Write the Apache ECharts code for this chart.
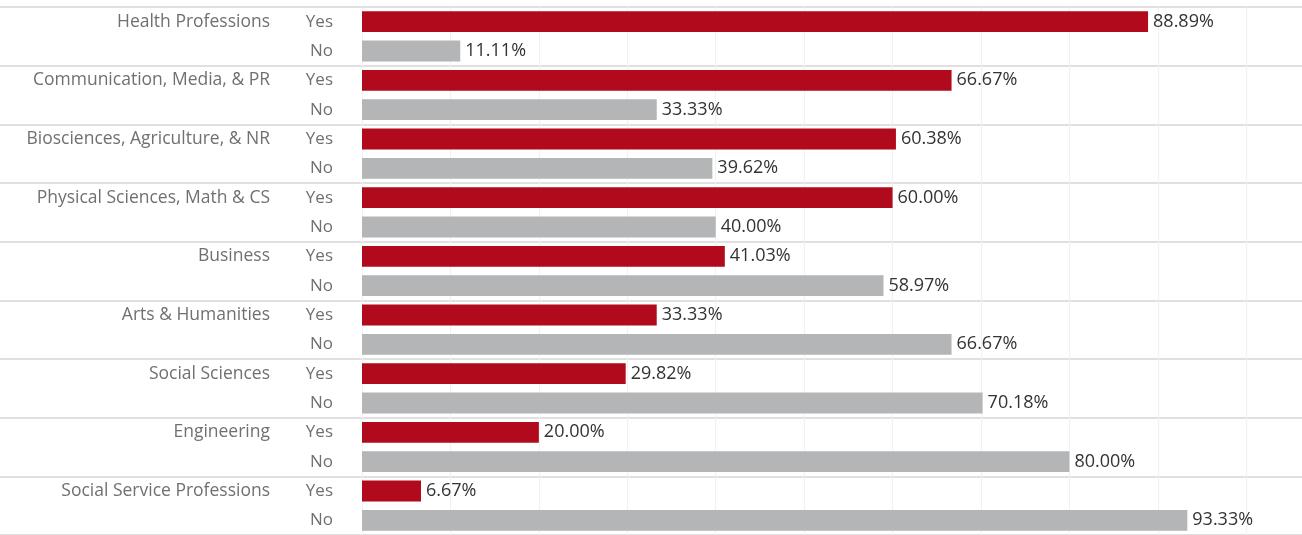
<!DOCTYPE html>
<html><head><meta charset="utf-8">
<script src="https://cdn.jsdelivr.net/npm/echarts@6/dist/echarts.min.js"></script>
<style>html,body{margin:0;padding:0;background:#fff}#c{width:1302px;height:535px}</style>
</head><body><div id="c"></div>
<script>
const groups = ["Health Professions","Communication, Media, & PR","Biosciences, Agriculture, & NR","Physical Sciences, Math & CS","Business","Arts & Humanities","Social Sciences","Engineering","Social Service Professions"];
const answers = ["Yes","No"];
const yesValues = [88.89,66.67,60.38,60.00,41.03,33.33,29.82,20.00,6.67];
const noValues = [11.11,33.33,39.62,40.00,58.97,66.67,70.18,80.00,93.33];

const rowLabels = [], rowValues = [];
groups.forEach((g,i)=>{ rowLabels.push(answers[0]); rowValues.push(yesValues[i]); rowLabels.push(answers[1]); rowValues.push(noValues[i]); });

const RED = '#b10a1c', GREY = '#b3b5b6';
const chart = echarts.init(document.getElementById('c'), null, {renderer:'canvas'});
chart.setOption({
  animation:false,
  grid:{left:362, right:0, top:7, height:531, containLabel:false},
  xAxis:{type:'value', min:0, max:106.3, interval:10,
    axisLabel:{show:false}, axisLine:{show:false}, axisTick:{show:false},
    splitLine:{show:true, lineStyle:{color:'#f1f1f1', width:1}}},
  yAxis:[
    {type:'category', data:rowLabels, inverse:true, position:'left', offset:0,
      axisLine:{show:false}, axisTick:{show:false}, splitLine:{show:false},
      axisLabel:{margin:29, color:'#707070', fontFamily:'Open Sans', fontSize:17, interval:0,
        showMinLabel:true, showMaxLabel:true, hideOverlap:false}},
    {type:'category', data:groups, inverse:true, position:'left', offset:0,
      axisLine:{show:false},
      axisTick:{show:true, length:362, interval:0, lineStyle:{color:'#d6d6d6', width:1.5}},
      splitLine:{show:true, interval:0, lineStyle:{color:'#d6d6d6', width:1.5}},
      axisLabel:{margin:92, color:'#707070', fontFamily:'Open Sans', fontSize:17.5, verticalAlign:'middle',
        interval:0, showMinLabel:true, showMaxLabel:true, hideOverlap:false,
        lineHeight:29.5, formatter: v => v + '\n '}}
  ],
  series:[{
    type:'bar', yAxisIndex:0, data:rowValues, barCategoryGap:'29%',
    itemStyle:{color: p => p.dataIndex%2===0 ? RED : GREY},
    label:{show:true, position:'right', distance:5, color:'#333', fontFamily:'Open Sans', fontSize:18,
      formatter: p => p.value.toFixed(2)+'%'}
  }]
});
</script></body></html>
